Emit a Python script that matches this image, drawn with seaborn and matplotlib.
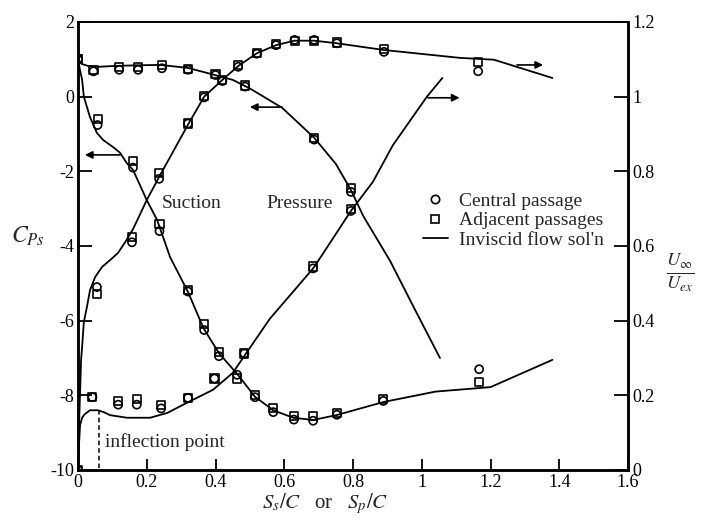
import matplotlib
matplotlib.use("Agg")
import matplotlib.pyplot as plt
from matplotlib.lines import Line2D
import seaborn as sns
import pandas as pd

# ---- inviscid solution curves ----
# suction-side pressure coefficient (left axis)
xs_cp_line = [0, 0.005, 0.012, 0.017, 0.035, 0.055, 0.073, 0.102, 0.122, 0.142, 0.16,
              0.2, 0.23, 0.268, 0.32, 0.365, 0.41, 0.466, 0.515, 0.568, 0.626, 0.684,
              0.752, 0.888, 1.04, 1.2, 1.38]
cp_suction_line = [1.0, 0.75, 0.45, 0.0, -0.55, -0.97, -1.16, -1.35, -1.5, -1.78, -1.96,
                   -2.77, -3.3, -4.3, -5.23, -6.2, -6.87, -7.46, -8.04, -8.4, -8.6, -8.66,
                   -8.53, -8.18, -7.9, -7.78, -7.05]

# pressure-side pressure coefficient (left axis)
xp_cp_line = [0, 0.01, 0.03, 0.06, 0.1, 0.17, 0.24, 0.32, 0.39, 0.45, 0.5, 0.594,
              0.687, 0.75, 0.794, 0.83, 0.908, 0.98, 1.053]
cp_pressure_line = [1.0, 0.88, 0.82, 0.8, 0.82, 0.84, 0.85, 0.77, 0.6, 0.45, 0.22, -0.3,
                    -1.1, -1.8, -2.5, -3.2, -4.4, -5.7, -7.0]

# suction-side velocity ratio (right axis)
xs_u_line = [0, 0.004, 0.009, 0.012, 0.017, 0.026, 0.035, 0.05, 0.07, 0.093, 0.116,
             0.137, 0.16, 0.2, 0.236, 0.32, 0.367, 0.42, 0.466, 0.52, 0.576, 0.63,
             0.687, 0.753, 0.89, 1.11, 1.21, 1.38]
u_suction_line = [0.0, 0.15, 0.295, 0.33, 0.396, 0.437, 0.482, 0.517, 0.544, 0.562, 0.581,
                  0.61, 0.645, 0.723, 0.785, 0.925, 1.0, 1.045, 1.082, 1.116, 1.138, 1.15,
                  1.15, 1.143, 1.125, 1.104, 1.099, 1.05]

# pressure-side velocity ratio (right axis)
xp_u_line = [0, 0.003, 0.006, 0.012, 0.02, 0.035, 0.058, 0.075, 0.093, 0.142, 0.21,
             0.26, 0.317, 0.393, 0.45, 0.558, 0.684, 0.713, 0.794, 0.858, 0.916, 1.015, 1.06]
u_pressure_line = [0.0, 0.07, 0.12, 0.14, 0.15, 0.16, 0.16, 0.155, 0.147, 0.14, 0.14,
                   0.153, 0.18, 0.215, 0.26, 0.405, 0.54, 0.58, 0.694, 0.772, 0.87, 1.0, 1.05]

# ---- measurements: central passage (circles) and adjacent passages (squares) ----
xs_cp_pts = [0, 0.057, 0.16, 0.237, 0.32, 0.367, 0.41, 0.463, 0.515, 0.568, 0.628,
             0.684, 0.753, 0.888, 1.167]
cp_suction_central = [1.0, -0.76, -1.9, -3.6, -5.22, -6.25, -6.95, -7.45, -8.05, -8.45,
                      -8.65, -8.68, -8.52, -8.15, -7.3]
cp_suction_adjacent = [1.0, -0.6, -1.72, -3.42, -5.18, -6.1, -6.85, -7.55, -7.98, -8.35,
                       -8.55, -8.55, -8.48, -8.1, -7.64]

xp_cp_pts = [0, 0.045, 0.12, 0.175, 0.244, 0.32, 0.4, 0.486, 0.687, 0.794]
cp_pressure_central = [1.0, 0.68, 0.72, 0.72, 0.76, 0.72, 0.58, 0.27, -1.15, -2.55]
cp_pressure_adjacent = [1.0, 0.72, 0.8, 0.8, 0.84, 0.74, 0.6, 0.3, -1.1, -2.45]

xs_u_pts = [0, 0.055, 0.157, 0.236, 0.32, 0.367, 0.42, 0.466, 0.52, 0.576, 0.63,
            0.687, 0.753, 0.89, 1.164]
u_suction_central = [0.0, 0.49, 0.61, 0.78, 0.928, 0.998, 1.042, 1.08, 1.115, 1.138,
                     1.152, 1.152, 1.143, 1.12, 1.068]
u_suction_adjacent = [0.0, 0.472, 0.625, 0.795, 0.928, 1.002, 1.045, 1.085, 1.116, 1.14,
                      1.148, 1.15, 1.145, 1.128, 1.092]

xp_u_pts = [0.042, 0.117, 0.171, 0.242, 0.32, 0.397, 0.484, 0.684, 0.794]
u_pressure_central = [0.195, 0.175, 0.175, 0.165, 0.193, 0.245, 0.312, 0.54, 0.694]
u_pressure_adjacent = [0.195, 0.185, 0.19, 0.175, 0.193, 0.245, 0.312, 0.545, 0.70]

# ---- axis ticks ----
x_ticks = [0, 0.2, 0.4, 0.6, 0.8, 1.0, 1.2, 1.4, 1.6]
x_tick_labels = ["0", "0.2", "0.4", "0.6", "0.8", "1", "1.2", "1.4", "1.6"]
cp_ticks = [-10, -8, -6, -4, -2, 0, 2]
cp_tick_labels = ["-10", "-8", "-6", "-4", "-2", "0", "2"]
u_ticks = [0, 0.2, 0.4, 0.6, 0.8, 1.0, 1.2]
u_tick_labels = ["0", "0.2", "0.4", "0.6", "0.8", "1", "1.2"]

sns.set_theme(style="ticks")
plt.rcParams["font.family"] = ["Liberation Serif", "DejaVu Serif"]
plt.rcParams["mathtext.fontset"] = "stix"
plt.rcParams["axes.unicode_minus"] = False

fig = plt.figure(figsize=(7.01, 5.2), dpi=100)
ax = fig.add_axes([78 / 701, 50 / 520, 550 / 701, 448 / 520])
ax2 = ax.twinx()

LW = 1.3
MS = 34
MEW = 1.2


def curve(axis, x, y):
    df = pd.DataFrame({"x": x, "y": y})
    sns.lineplot(data=df, x="x", y="y", ax=axis, color="black", lw=LW,
                 sort=False, estimator=None)


def points(axis, x, y, marker):
    df = pd.DataFrame({"x": x, "y": y})
    sns.scatterplot(data=df, x="x", y="y", ax=axis, marker=marker, s=MS,
                    facecolors="none", edgecolors="black", linewidths=MEW, zorder=3)


curve(ax, xs_cp_line, cp_suction_line)
curve(ax, xp_cp_line, cp_pressure_line)
points(ax, xs_cp_pts, cp_suction_adjacent, "s")
points(ax, xs_cp_pts, cp_suction_central, "o")
points(ax, xp_cp_pts, cp_pressure_adjacent, "s")
points(ax, xp_cp_pts, cp_pressure_central, "o")

curve(ax2, xs_u_line, u_suction_line)
curve(ax2, xp_u_line, u_pressure_line)
points(ax2, xs_u_pts, u_suction_adjacent, "s")
points(ax2, xs_u_pts, u_suction_central, "o")
points(ax2, xp_u_pts, u_pressure_adjacent, "s")
points(ax2, xp_u_pts, u_pressure_central, "o")

for c in ax.collections + ax2.collections:
    c.set_facecolor("none")
    c.set_edgecolor("black")

# axes ranges and ticks
ax.set_xlim(0, 1.6)
ax.set_ylim(-10, 2)
ax2.set_ylim(0, 1.2)
ax.set_xticks(x_ticks)
ax.set_xticklabels(x_tick_labels)
ax.set_yticks(cp_ticks)
ax.set_yticklabels(cp_tick_labels)
ax2.set_yticks(u_ticks)
ax2.set_yticklabels(u_tick_labels)

tick_font = 13
ax.tick_params(axis="x", direction="in", length=8, width=1.3, labelsize=tick_font,
               pad=3, colors="black", top=False)
ax.tick_params(axis="y", direction="in", length=10, width=1.3, labelsize=tick_font,
               pad=3, colors="black", right=False)
ax2.tick_params(axis="y", direction="in", length=10, width=1.3, labelsize=tick_font,
                pad=3, colors="black")

for a in (ax, ax2):
    for side, sp in a.spines.items():
        sp.set_visible(True)
        sp.set_color("black")
        sp.set_linewidth(1.2 if side == "top" else 1.8)
    a.grid(False)

ax.set_xlabel(r"$S_s/C$   or   $S_p/C$", fontsize=15)
ax.xaxis.set_label_coords(0.449, -0.048)
ax.set_ylabel(r"$C_{Ps}$", fontsize=17, rotation=0)
ax.yaxis.set_label_coords(-0.091, 0.495)
ax2.set_ylabel(r"$\frac{U_\infty}{U_{ex}}$", fontsize=19, rotation=0)
ax2.yaxis.set_label_coords(1.095, 0.487)

# text annotations
ax.text(0.244, -2.85, "Suction", fontsize=14, ha="left", va="center")
ax.text(0.547, -2.85, "Pressure", fontsize=14, ha="left", va="center")
ax.text(0.079, -9.25, "inflection point", fontsize=14, ha="left", va="center")
ax.plot([0.061, 0.061], [-8.4, -10], color="black", lw=1.1, ls=(0, (3, 2)))

arrow = dict(arrowstyle="-|>", color="black", lw=1.2, mutation_scale=11,
             shrinkA=0, shrinkB=0)
ax.annotate("", xy=(0.02, -1.56), xytext=(0.122, -1.56), arrowprops=arrow)
ax.annotate("", xy=(0.5, -0.28), xytext=(0.594, -0.28), arrowprops=arrow)
ax2.annotate("", xy=(1.11, 0.997), xytext=(1.018, 0.997), arrowprops=arrow)
ax2.annotate("", xy=(1.353, 1.085), xytext=(1.277, 1.085), arrowprops=arrow)

# legend
handles = [
    Line2D([], [], ls="none", marker="o", ms=6, mfc="none", mec="black", mew=1.2),
    Line2D([], [], ls="none", marker="s", ms=6, mfc="none", mec="black", mew=1.2),
    Line2D([], [], color="black", lw=LW),
]
labels = ["Central passage", "Adjacent passages", "Inviscid flow sol'n"]
ax2.legend(handles, labels, loc="upper left", bbox_to_anchor=(0.627, 0.62),
           frameon=False, fontsize=14, handlelength=1.3, handletextpad=0.55,
           labelspacing=0.1, borderpad=0, borderaxespad=0)

fig.savefig("out.png", dpi=100)
